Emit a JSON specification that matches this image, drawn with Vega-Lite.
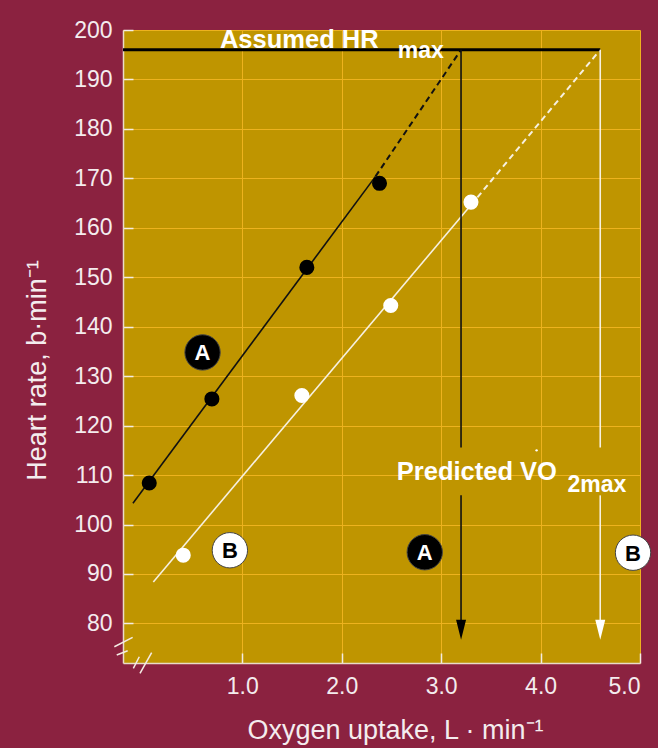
{
  "$schema": "https://vega.github.io/schema/vega-lite/v6.json",
  "width": 517,
  "height": 633,
  "autosize": {"type": "none"},
  "padding": {"left": 123, "top": 30, "right": 18, "bottom": 85},
  "background": "#8B2240",
  "config": {
    "view": {"fill": "#BF9500", "stroke": null},
    "font": "Liberation Sans",
    "axis": {
      "gridColor": "#EDB21E",
      "gridWidth": 1,
      "domainColor": "#EADCC8",
      "domainWidth": 1.5,
      "tickColor": "#F4ECE4",
      "tickSize": -10,
      "tickWidth": 1.5,
      "labelColor": "#F4ECEE",
      "labelFontSize": 23,
      "titleColor": "#F4ECEE",
      "titleFontSize": 27,
      "titleFontWeight": "normal"
    }
  },
  "datasets": {
    "lines": [
      {"series": "A", "seg": "solid", "x": -0.10, "y": 104.3},
      {"series": "A", "seg": "solid", "x": 2.34, "y": 170.4},
      {"series": "A", "seg": "dashed", "x": 2.34, "y": 170.4},
      {"series": "A", "seg": "dashed", "x": 3.2, "y": 196},
      {"series": "B", "seg": "solid", "x": 0.105, "y": 88.4},
      {"series": "B", "seg": "solid", "x": 3.30, "y": 164.6},
      {"series": "B", "seg": "dashed", "x": 3.30, "y": 164.6},
      {"series": "B", "seg": "dashed", "x": 4.6, "y": 196}
    ],
    "hrmax": [{"x": -0.2, "x2": 4.6, "y": 196}],
    "verticals": [
      {"series": "A", "x": 3.2, "y": 196, "y2": 115.6},
      {"series": "A", "x": 3.2, "y": 105.9, "y2": 79},
      {"series": "B", "x": 4.6, "y": 196, "y2": 115.6},
      {"series": "B", "x": 4.6, "y": 105.9, "y2": 79}
    ],
    "arrows": [
      {"series": "A", "x": 3.2, "y": 78.7},
      {"series": "B", "x": 4.6, "y": 78.7}
    ],
    "points": [
      {"series": "A", "x": 0.064, "y": 108.4},
      {"series": "A", "x": 0.694, "y": 125.4},
      {"series": "A", "x": 1.649, "y": 152.0},
      {"series": "A", "x": 2.38, "y": 169.0},
      {"series": "B", "x": 0.406, "y": 93.8},
      {"series": "B", "x": 1.599, "y": 126.1},
      {"series": "B", "x": 2.493, "y": 144.3},
      {"series": "B", "x": 3.30, "y": 165.2}
    ],
    "tags": [
      {"series": "A", "x": 0.60, "y": 134.8},
      {"series": "B", "x": 0.875, "y": 94.8},
      {"series": "A", "x": 2.835, "y": 94.4},
      {"series": "B", "x": 4.93, "y": 94.3}
    ],
    "breaks": [
      {"x": -0.287, "y": 75.29, "x2": -0.103, "y2": 77.19},
      {"x": -0.263, "y": 73.62, "x2": -0.153, "y2": 74.49},
      {"x": -0.096, "y": 70.93, "x2": -0.036, "y2": 73.27},
      {"x": -0.029, "y": 69.92, "x2": 0.088, "y2": 74.08}
    ],
    "notes": [
      {"kind": "main", "label": "Assumed HR", "x": 0.775, "y": 196.4},
      {"kind": "sub", "label": "max", "x": 2.564, "y": 194.4},
      {"kind": "main", "label": "Predicted VO", "x": 2.554, "y": 109.0},
      {"kind": "sub", "label": "2max", "x": 4.27, "y": 106.5}
    ],
    "dot": [{"x": 3.96, "y": 115.0}]
  },
  "encoding": {
    "x": {
      "field": "x",
      "type": "quantitative",
      "scale": {"domain": [-0.2, 5.0], "nice": false, "zero": false},
      "axis": {
        "values": [1, 2, 3, 4, 5],
        "format": ".1f",
        "labelPadding": 22,
        "title": "Oxygen uptake, L · min⁻¹",
        "titleX": 272,
        "titleY": 75,
        "titleBaseline": "alphabetic",
        "titleAlign": "center"
      }
    },
    "y": {
      "field": "y",
      "type": "quantitative",
      "scale": {"domain": [72, 200], "nice": false, "zero": false},
      "axis": {
        "values": [80, 90, 100, 110, 120, 130, 140, 150, 160, 170, 180, 190, 200],
        "labelPadding": 21,
        "title": "Heart rate, b·min⁻¹",
        "titleX": -78,
        "titleY": 340,
        "titleAngle": 270,
        "titleBaseline": "alphabetic",
        "titleAlign": "center"
      }
    }
  },
  "layer": [
    {
      "data": {"name": "lines"},
      "transform": [{"filter": "datum.seg === 'solid'"}],
      "mark": {"type": "line", "strokeWidth": 1.6},
      "encoding": {
        "detail": {"field": "series"},
        "order": {"field": "x", "type": "quantitative"},
        "color": {"condition": {"test": "datum.series === 'A'", "value": "#111111"}, "value": "#F6F0E0"}
      }
    },
    {
      "data": {"name": "lines"},
      "transform": [{"filter": "datum.seg === 'dashed'"}],
      "mark": {"type": "line", "strokeWidth": 2, "strokeDash": [6, 4]},
      "encoding": {
        "detail": {"field": "series"},
        "order": {"field": "x", "type": "quantitative"},
        "color": {"condition": {"test": "datum.series === 'A'", "value": "#111111"}, "value": "#F6F0E0"}
      }
    },
    {
      "data": {"name": "hrmax"},
      "mark": {"type": "rule", "strokeWidth": 3, "color": "#000000"},
      "encoding": {"x2": {"field": "x2"}}
    },
    {
      "data": {"name": "verticals"},
      "mark": {"type": "rule", "strokeWidth": 1.6},
      "encoding": {
        "y2": {"field": "y2"},
        "color": {"condition": {"test": "datum.series === 'A'", "value": "#111111"}, "value": "#F6F0E0"}
      }
    },
    {
      "data": {"name": "arrows"},
      "mark": {"type": "point", "shape": "M-0.5,-1L0.5,-1L0,1Z", "size": 400, "filled": true, "opacity": 1},
      "encoding": {
        "color": {"condition": {"test": "datum.series === 'A'", "value": "#000000"}, "value": "#FFFFFF"}
      }
    },
    {
      "data": {"name": "breaks"},
      "mark": {"type": "rule", "strokeWidth": 1.5, "color": "#F4ECE4"},
      "encoding": {"x2": {"field": "x2"}, "y2": {"field": "y2"}}
    },
    {
      "data": {"name": "points"},
      "mark": {"type": "circle", "size": 227, "opacity": 1},
      "encoding": {
        "color": {"condition": {"test": "datum.series === 'A'", "value": "#000000"}, "value": "#FFFFFF"}
      }
    },
    {
      "data": {"name": "tags"},
      "mark": {"type": "circle", "size": 1250, "opacity": 1, "stroke": "#444444", "strokeWidth": 1},
      "encoding": {
        "fill": {"condition": {"test": "datum.series === 'A'", "value": "#000000"}, "value": "#FFFFFF"}
      }
    },
    {
      "data": {"name": "tags"},
      "mark": {"type": "text", "fontSize": 22, "fontWeight": "bold", "align": "center", "baseline": "middle", "dy": 1},
      "encoding": {
        "text": {"field": "series"},
        "color": {"condition": {"test": "datum.series === 'A'", "value": "#FFFFFF"}, "value": "#000000"}
      }
    },
    {
      "data": {"name": "notes"},
      "transform": [{"filter": "datum.kind === 'main'"}],
      "mark": {"type": "text", "fontSize": 25.5, "fontWeight": "bold", "align": "left", "baseline": "alphabetic", "color": "#FFFFFF"},
      "encoding": {"text": {"field": "label"}}
    },
    {
      "data": {"name": "notes"},
      "transform": [{"filter": "datum.kind === 'sub'"}],
      "mark": {"type": "text", "fontSize": 23, "fontWeight": "bold", "align": "left", "baseline": "alphabetic", "color": "#FFFFFF"},
      "encoding": {"text": {"field": "label"}}
    },
    {
      "data": {"name": "dot"},
      "mark": {"type": "circle", "size": 6, "opacity": 1, "color": "#FFFFFF"}
    }
  ]
}
